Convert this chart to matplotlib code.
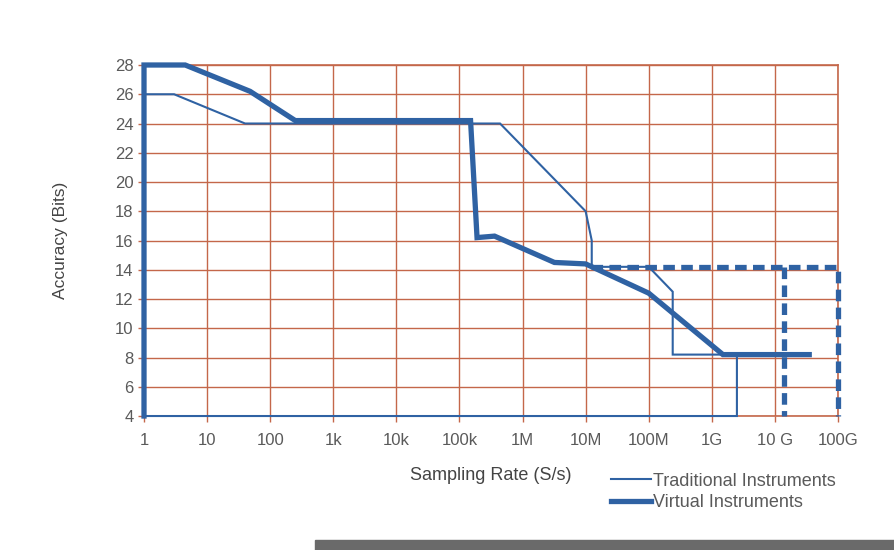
import matplotlib.pyplot as plt
from matplotlib.patches import Rectangle

plt.rcParams['font.family'] = ['Liberation Sans', 'DejaVu Sans']

# sampling rate (S/s) vs accuracy (bits)
trad_x = [1, 1, 3, 40, 4.4e5, 1e7, 1.25e7, 1.25e7, 1e8, 2.4e8, 2.4e8, 2.5e9, 2.5e9, 1]
trad_y = [4, 26, 26, 24, 24, 18, 16, 14.2, 14.2, 12.5, 8.2, 8.2, 4, 4]

virt_x = [1, 1, 4.5, 48, 250, 1.5e5, 1.9e5, 3.6e5, 3.2e6, 1e7, 1e8, 1.5e9, 3.5e10]
virt_y = [4, 28, 28, 26.2, 24.2, 24.2, 16.2, 16.3, 14.5, 14.4, 12.4, 8.2, 8.2]

# dashed outline: headroom of virtual instruments
dash_x = [1.2e7, 1e11, 1e11]
dash_y = [14.2, 14.2, 4]
dash2_x = [1.4e10, 1.4e10]
dash2_y = [14.2, 4]

xticks = [1, 1e1, 1e2, 1e3, 1e4, 1e5, 1e6, 1e7, 1e8, 1e9, 1e10, 1e11]
xlabels = ['1', '10', '100', '1k', '10k', '100k', '1M', '10M', '100M', '1G', '10 G', '100G']
yticks = list(range(4, 29, 2))

blue = '#2f62a3'
grid = '#c4674a'
txt = '#5a5a5a'

fig = plt.figure(figsize=(8.95, 5.5), dpi=100)
ax = fig.add_axes([0.1609, 0.2436, 0.7754, 0.6382])

ax.plot(trad_x, trad_y, color=blue, lw=1.5, solid_joinstyle='miter', zorder=3,
        clip_on=False, label='Traditional Instruments')
ax.plot(virt_x, virt_y, color=blue, lw=3.8, solid_joinstyle='miter', zorder=4,
        clip_on=False, label='Virtual Instruments')
ax.plot(dash_x, dash_y, color=blue, lw=3.8, ls=(0, (2.2, 1.2)), zorder=4, clip_on=False)
ax.plot(dash2_x, dash2_y, color=blue, lw=3.8, ls=(0, (2.2, 1.2)), zorder=4, clip_on=False)

ax.set_xscale('log')
ax.set_xlim(1, 1e11)
ax.set_ylim(4, 28)
ax.set_xticks(xticks)
ax.set_xticklabels(xlabels)
ax.minorticks_off()
ax.set_yticks(yticks)
ax.grid(True, color=grid, lw=1.0)
ax.set_axisbelow(True)
for s in ax.spines.values():
    s.set_color(grid)
    s.set_linewidth(1.2)
    s.set_zorder(2)
ax.tick_params(colors=grid, labelcolor=txt, labelsize=12, length=4, width=1)
ax.tick_params(axis='x', pad=8)

ax.set_ylabel('Accuracy (Bits)', fontsize=12.5, color='#444444', labelpad=34)
ax.set_xlabel('Sampling Rate (S/s)', fontsize=13, color='#444444', labelpad=14)

leg = fig.legend(loc='upper left', bbox_to_anchor=(0.665, 0.17), frameon=False,
                 handlelength=2.2, handletextpad=0.1, labelspacing=0.25,
                 fontsize=13)
for t in leg.get_texts():
    t.set_color(txt)

# dark strip at the bottom of the scanned page
fig.patches.append(Rectangle((0.352, 0.0), 0.648, 0.018, transform=fig.transFigure,
                             color='#6a6a6a', zorder=0))

fig.savefig('out.png', dpi=100)
